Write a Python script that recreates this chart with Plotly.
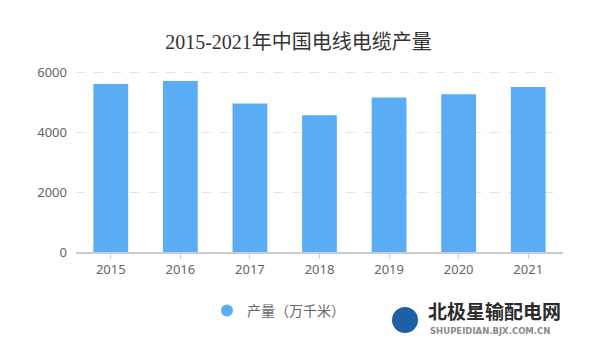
import plotly.graph_objects as go

years = ["2015", "2016", "2017", "2018", "2019", "2020", "2021"]
output = [5600, 5700, 4950, 4560, 5150, 5260, 5500]
series_name = "产量（万千米）"
title_text = "2015-2021年中国电线电缆产量"

W, H = 597, 355
L, R, T, B = 76, 34, 70, 103
pw, ph = W - L - R, H - T - B
ymax = 6000 * ph / (ph - 2)

def px(x):
    return (x - L) / pw

def py(y):
    return (H - B - y) / ph

fig = go.Figure()
fig.add_trace(go.Bar(
    x=years, y=output, name=series_name, showlegend=False,
    marker=dict(color="#5aadf5", line=dict(width=0)),
))
fig.add_trace(go.Scatter(x=[None], y=[None], mode="markers", name=series_name,
                         marker=dict(symbol="circle", size=12, color="#5aadf5")))

fig.update_layout(
    width=W, height=H,
    margin=dict(l=L, r=R, t=T, b=B),
    paper_bgcolor="white", plot_bgcolor="white",
    bargap=0.5,
    title=dict(text=title_text, x=0.5, xanchor="center", y=1 - 42 / H, yanchor="middle",
               font=dict(family="Liberation Serif, Noto Sans CJK SC, serif", size=20, color="#333333")),
    font=dict(family="Noto Sans, Noto Sans CJK SC, sans-serif", color="#666666", size=13),
    showlegend=True,
    legend=dict(orientation="h", x=px(207), xanchor="left", y=py(311), yanchor="middle",
                font=dict(size=14, color="#666666"), itemsizing="constant",
                bgcolor="rgba(0,0,0,0)"),
    xaxis=dict(showline=True, linecolor="#cccccc", linewidth=1.5, ticks="outside",
               ticklen=5, tickcolor="#cccccc", showgrid=False,
               tickfont=dict(size=13, color="#666666"), fixedrange=True),
    yaxis=dict(range=[0, ymax], tickvals=[0, 2000, 4000, 6000], showline=False,
               showgrid=True, gridcolor="#e3e3e3", griddash="dash", gridwidth=1,
               zeroline=False, ticks="", ticklabelstandoff=8,
               tickfont=dict(size=13, color="#666666"), fixedrange=True),
)

# watermark logo
fig.add_shape(type="circle", xref="paper", yref="paper",
              x0=px(392), x1=px(418), y0=py(333), y1=py(307),
              fillcolor="#1f5fa8", line=dict(width=0))
fig.add_annotation(text="<b>北极星输配电网</b>", xref="paper", yref="paper",
                   x=px(426), y=py(310), xanchor="left", yanchor="middle", showarrow=False,
                   font=dict(family="Noto Sans CJK SC", size=19, color="#2b2b2b"))
fig.add_annotation(text="<b>SHUPEIDIAN.BJX.COM.CN</b>", xref="paper", yref="paper",
                   x=px(428), y=py(331), xanchor="left", yanchor="middle", showarrow=False,
                   font=dict(family="DejaVu Sans", size=8.5, color="#8a8a8a"))

fig.write_html("out.html")
